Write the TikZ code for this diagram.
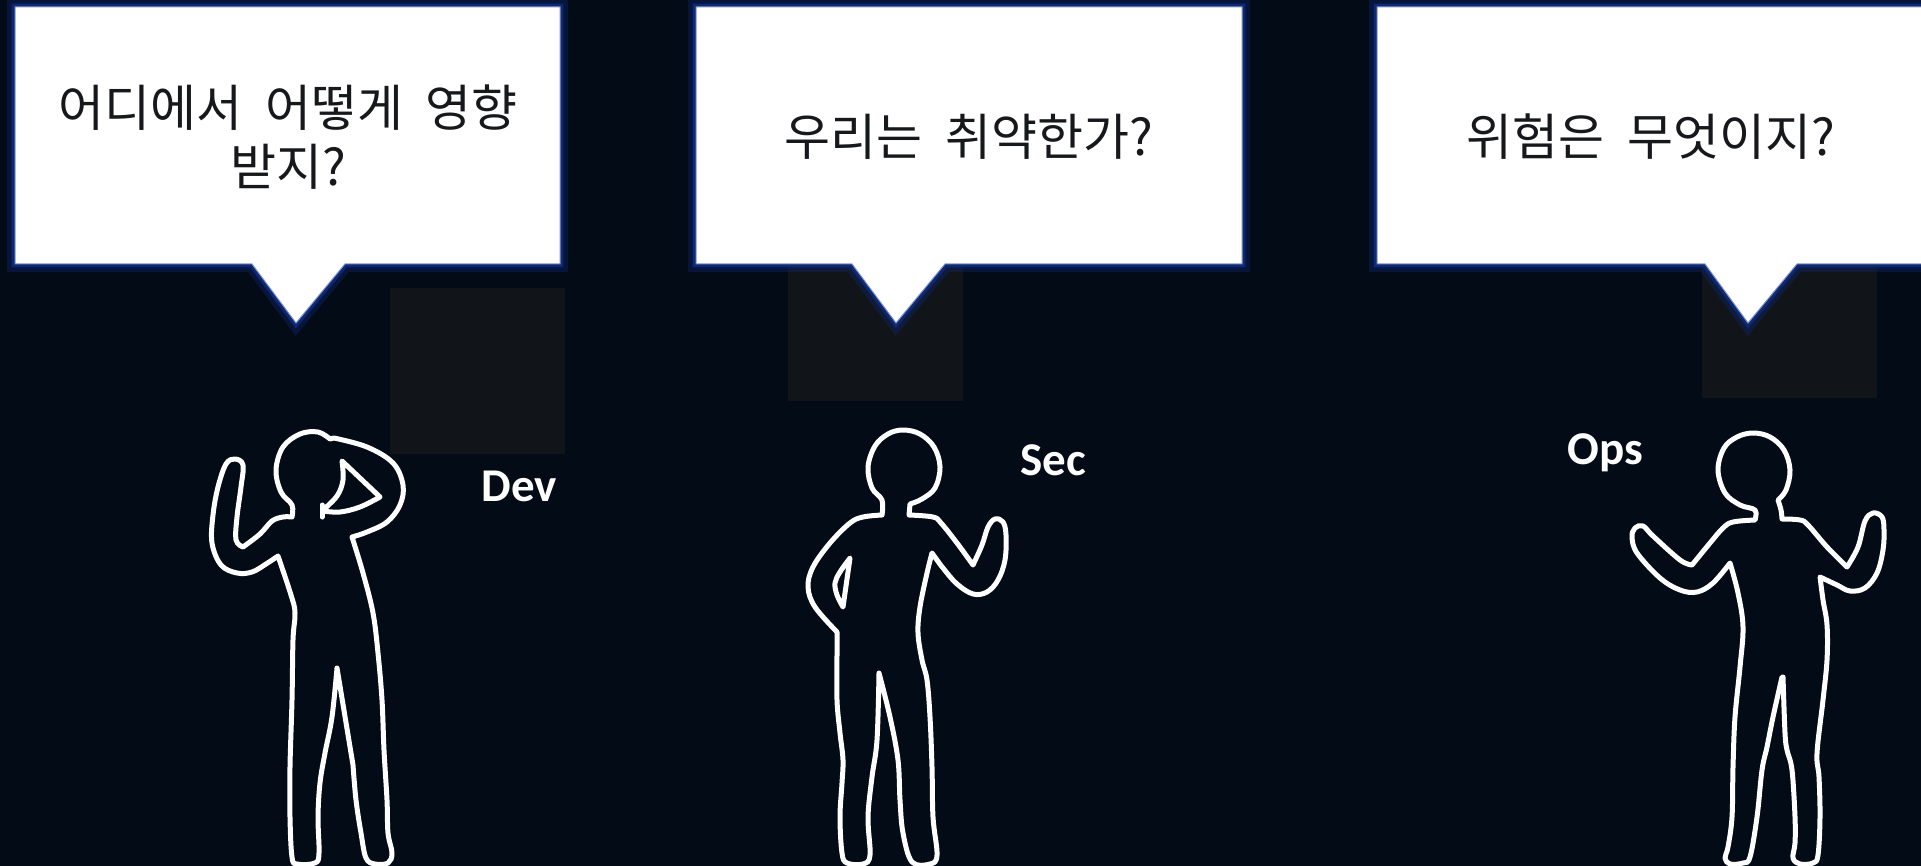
\documentclass[tikz,border=0pt]{standalone}
\usepackage{fontspec}
\newfontfamily\krfont[WordSpace=2]{Noto Sans CJK KR}
\newfontfamily\labfont{Carlito}
\definecolor{bg}{RGB}{3,11,23}
\definecolor{panel}{RGB}{17,21,26}
\definecolor{rim}{RGB}{12,40,122}
\definecolor{rimlight}{RGB}{130,145,185}
\definecolor{ink}{RGB}{22,24,28}
\tikzset{
  bubble/.style={fill=white, draw=rimlight, line width=0.5pt, line join=miter,
    preaction={draw=rim, line width=8pt, opacity=0.35},
    preaction={draw=rim, line width=3.4pt}},
  qtext/.style={font=\krfont\fontsize{25}{29.75}\selectfont, text=ink, align=center, inner sep=0pt},
  tag/.style={font=\labfont\bfseries\fontsize{23.5}{28}\selectfont, text=white, inner sep=0pt, anchor=base west},
  fig/.style={draw=white, line width=2.5pt, line join=round, line cap=round},
  sm/.style={smooth, tension=0.6}
}
\begin{document}
\begin{tikzpicture}[x=0.5pt, y=-0.5pt]
\useasboundingbox (0,0) rectangle (1921,866);
\fill[bg] (0,0) rectangle (1921,866);

% dark panels behind the bubbles
\fill[panel] (390,288) rectangle (565,454);
\fill[panel] (788,250) rectangle (963,401);
\fill[panel] (1702,250) rectangle (1877,398);

% speech bubbles
\path[bubble] (15,7) -- (560,7) -- (560,264) -- (345,264) -- (296,323) -- (252,264) -- (15,264) -- cycle;
\path[bubble] (696,7) -- (1242,7) -- (1242,264) -- (945,264) -- (896,323) -- (852,264) -- (696,264) -- cycle;
\path[bubble] (1377,7) -- (1935,7) -- (1935,264) -- (1797,264) -- (1748,323) -- (1705,264) -- (1377,264) -- cycle;

\node[qtext] (q1) at (288,137) {어디에서 어떻게 영향\\받지?};
\node[qtext] (q2) at (969,137) {우리는 취약한가?};
\node[qtext] (q3) at (1651,137) {위험은 무엇이지?};

% labels
\node[tag] (dev) at (481,501) {Dev};
\node[tag] (sec) at (1020,475) {Sec};
\node[tag] (ops) at (1567,464) {Ops};

% Dev: hand on the back of the head
\draw[fig]
 plot[sm] coordinates {(292,517) (292,505) (281,492) (276,470) (283,447) (300,434) (318,432) (330,439)}
 -- plot[sm] coordinates {(334,438) (367,447) (393,463) (403,485) (400,505) (387,522) (367,532) (352,537)}
 -- plot[sm] coordinates {(352,537) (363,573) (373,613) (378,653) (382,700) (384,750) (387,800) (388,833) (392,853) (388,863) (375,864) (366,858) (361,833) (356,800) (353,765)}
 -- (337,668)
 -- plot[sm] coordinates {(337,668) (332,717) (325,753) (320,783) (318,817) (319,853) (315,863) (297,864) (292,857) (290,817) (290,767) (292,700) (293,640) (295,613) (291,595) (278,556)}
 -- plot[sm] coordinates {(278,556) (266,564) (252,572) (237,573) (221,565) (212,543) (213,515) (218,487) (226,464) (235,459) (243,465) (241,487) (237,517) (236,540) (243,547)}
 -- plot[sm] coordinates {(243,547) (260,534) (272,521) (283,517) (292,517)}
 -- cycle;
\draw[fig] (322,517) -- (322,505);
\draw[fig] plot[sm] coordinates {(323,510) (337,496) (343,480) (342,461)} -- (380,497)
 -- plot[sm] coordinates {(380,497) (360,507) (340,512) (323,511)} -- cycle;

% Sec: hand on hip, other hand raised
\draw[fig]
 plot[sm] coordinates {(882,515) (882,500) (872,488) (868,467) (875,446) (888,434) (903,430) (920,434) (934,447) (940,467) (935,488) (922,499) (910,504)}
 -- (909,515)
 -- plot[sm] coordinates {(909,515) (933,517) (941,523) (957,543) (973,565)}
 -- plot[sm] coordinates {(973,565) (982,545) (988,527) (995,519) (1003,522) (1006,535) (1005,560) (998,580) (987,592) (973,594) (957,584) (943,568) (932,553)}
 -- plot[sm] coordinates {(932,553) (927,573) (920,607) (918,633) (922,660) (927,680) (930,717) (932,767) (933,817) (937,855) (930,864) (912,862) (903,833) (900,800) (898,760) (890,717) (879,673)}
 -- plot[sm] coordinates {(879,673) (877,740) (872,777) (868,817) (870,855) (863,864) (847,863) (842,853) (840,817) (842,783) (843,760) (840,733) (837,700) (837,653) (837,632)}
 -- plot[sm] coordinates {(837,632) (815,607) (808,587) (813,567) (830,543) (850,523) (863,517) (882,515)}
 -- cycle;
\draw[fig] (850,558) -- (843,607) -- plot[sm] coordinates {(843,607) (837,595) (835,583) (840,572) (850,558)} -- cycle;

% Ops: shrugging
\draw[fig]
 plot[sm] coordinates {(1755,520) (1755,510) (1740,505) (1725,493) (1718,470) (1724,448) (1737,437) (1753,433) (1770,437) (1784,450) (1790,470) (1786,490) (1778,500)}
 -- plot[sm] coordinates {(1778,500) (1781,510) (1782,519)}
 -- plot[sm] coordinates {(1782,519) (1800,520) (1808,525) (1827,547) (1847,567)}
 -- plot[sm] coordinates {(1847,567) (1858,547) (1865,521) (1873,513) (1882,517) (1884,530) (1883,550) (1877,573) (1865,588) (1850,591) (1837,585) (1820,577)}
 -- plot[sm] coordinates {(1820,577) (1823,600) (1827,625) (1827,660) (1823,700) (1817,753) (1819,777) (1820,817) (1818,855) (1813,863) (1800,864) (1793,858) (1795,843) (1795,817) (1792,770) (1787,750) (1785,733) (1783,677)}
 -- plot[sm] coordinates {(1782,677) (1773,717) (1767,747) (1762,770) (1757,817) (1750,857) (1743,863) (1730,864) (1725,858) (1728,847) (1732,817) (1733,767) (1735,717) (1740,667) (1743,627) (1738,593) (1730,563)}
 -- plot[sm] coordinates {(1730,563) (1713,583) (1697,592) (1680,590) (1660,578) (1637,553) (1632,537) (1635,528) (1643,526) (1653,536) (1680,560) (1692,565)}
 -- plot[sm] coordinates {(1692,565) (1710,543) (1723,528) (1733,522) (1755,520)}
 -- cycle;
\end{tikzpicture}
\end{document}
